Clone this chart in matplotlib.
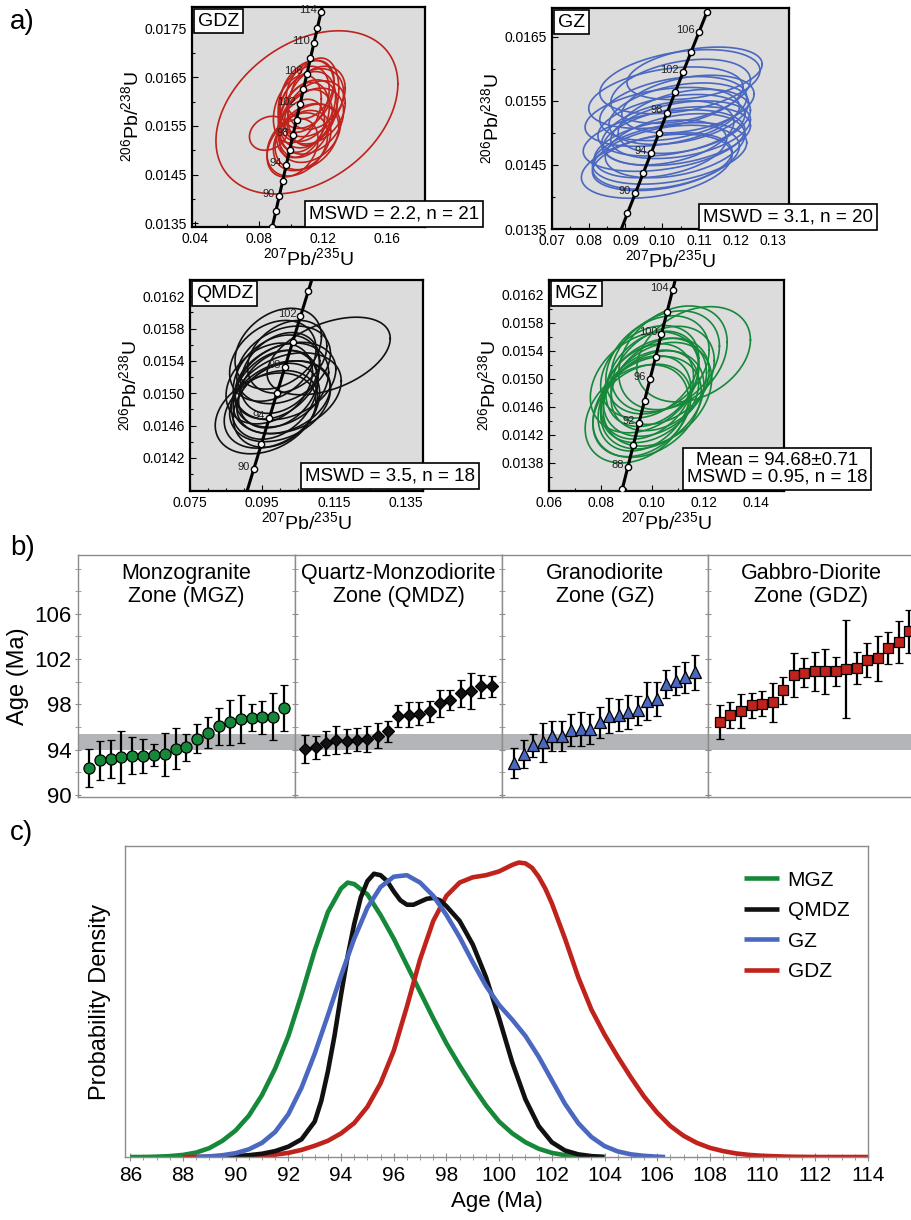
import numpy as np
import matplotlib
matplotlib.use("Agg")
import matplotlib.pyplot as plt
from matplotlib.ticker import MultipleLocator, FormatStrFormatter, FixedLocator

plt.rcParams['font.family'] = ['Liberation Sans', 'DejaVu Sans']
plt.rcParams['mathtext.fontset'] = 'custom'
plt.rcParams['mathtext.rm'] = 'Liberation Sans'
plt.rcParams['mathtext.it'] = 'Liberation Sans:italic'

# ---- colours per zone ----
C_MGZ = '#16883a'
C_QMDZ = '#111111'
C_GZ = '#4a68c0'
C_GDZ = '#c0221c'

# ---- a) concordia error ellipses: centre 207/235, centre 206/238, 2s x, 2s y, rho ----
GDZ_X = [0.086, 0.101, 0.104, 0.107, 0.110, 0.112, 0.106, 0.109, 0.113, 0.108, 0.111,
         0.115, 0.104, 0.110, 0.113, 0.108, 0.116, 0.110, 0.112, 0.114, 0.110]
GDZ_Y = [0.01535, 0.01505, 0.01512, 0.01520, 0.01528, 0.01535, 0.01545, 0.01555, 0.01560,
         0.01568, 0.01575, 0.01578, 0.01585, 0.01590, 0.01598, 0.01605, 0.01608, 0.01615,
         0.01625, 0.01600, 0.01578]
GDZ_SX = [0.012, 0.016, 0.019, 0.018, 0.020, 0.019, 0.015, 0.017, 0.020, 0.016, 0.018,
          0.019, 0.015, 0.018, 0.020, 0.016, 0.018, 0.017, 0.015, 0.016, 0.057]
GDZ_SY = [0.00035, 0.00060, 0.00065, 0.00062, 0.00068, 0.00060, 0.00060, 0.00070, 0.00068,
          0.00072, 0.00070, 0.00065, 0.00070, 0.00072, 0.00070, 0.00068, 0.00065, 0.00070,
          0.00060, 0.00090, 0.00168]
GDZ_RHO = [0.2] + [0.3] * 19 + [0.35]

GZ_X = [0.0985, 0.1000, 0.1010, 0.1020, 0.0995, 0.1035, 0.1005, 0.1040, 0.1015, 0.1050,
        0.1025, 0.1060, 0.1000, 0.1045, 0.1030, 0.1070, 0.1010, 0.1050, 0.1048, 0.1088]
GZ_Y = [0.01448, 0.01455, 0.01462, 0.01468, 0.01475, 0.01480, 0.01488, 0.01495, 0.01500,
        0.01505, 0.01512, 0.01518, 0.01525, 0.01530, 0.01538, 0.01545, 0.01555, 0.01565,
        0.01580, 0.01593]
GZ_SX = [0.0205, 0.019, 0.020, 0.021, 0.018, 0.019, 0.022, 0.020, 0.018, 0.019,
         0.020, 0.018, 0.021, 0.019, 0.020, 0.018, 0.021, 0.019, 0.0218, 0.0184]
GZ_SY = [0.00050, 0.00045, 0.00050, 0.00048, 0.00045, 0.00050, 0.00048, 0.00046, 0.00050,
         0.00045, 0.00048, 0.00050, 0.00046, 0.00048, 0.00050, 0.00045, 0.00048, 0.00050,
         0.00050, 0.00041]
GZ_RHO = [0.35] * 20

QMDZ_X = [0.0960, 0.0975, 0.0990, 0.1000, 0.1010, 0.0985, 0.1020, 0.0995, 0.1005,
          0.0970, 0.1015, 0.0990, 0.1000, 0.1010, 0.0980, 0.1020, 0.0995, 0.1135]
QMDZ_Y = [0.01475, 0.01480, 0.01485, 0.01490, 0.01495, 0.01498, 0.01500, 0.01505, 0.01510,
          0.01512, 0.01515, 0.01520, 0.01525, 0.01535, 0.01540, 0.01545, 0.01555, 0.01546]
QMDZ_SX = [0.014, 0.013, 0.012, 0.014, 0.013, 0.012, 0.015, 0.011, 0.013,
           0.012, 0.014, 0.012, 0.011, 0.013, 0.012, 0.011, 0.012, 0.0171]
QMDZ_SY = [0.00050, 0.00048, 0.00052, 0.00050, 0.00045, 0.00055, 0.00050, 0.00048, 0.00052,
           0.00050, 0.00048, 0.00052, 0.00050, 0.00048, 0.00050, 0.00045, 0.00050, 0.00048]
QMDZ_RHO = [0.3] * 17 + [0.45]

MGZ_X = [0.094, 0.096, 0.098, 0.097, 0.100, 0.099, 0.102, 0.098, 0.101,
         0.103, 0.097, 0.100, 0.104, 0.099, 0.102, 0.105, 0.108, 0.116]
MGZ_Y = [0.01450, 0.01455, 0.01460, 0.01465, 0.01470, 0.01475, 0.01478, 0.01482, 0.01488,
         0.01492, 0.01495, 0.01500, 0.01505, 0.01510, 0.01520, 0.01525, 0.01530, 0.01535]
MGZ_SX = [0.020, 0.019, 0.021, 0.018, 0.020, 0.019, 0.021, 0.018, 0.020,
          0.019, 0.021, 0.018, 0.020, 0.019, 0.020, 0.021, 0.021, 0.022]
MGZ_SY = [0.00070, 0.00066, 0.00072, 0.00068, 0.00070, 0.00066, 0.00074, 0.00068, 0.00070,
          0.00066, 0.00072, 0.00068, 0.00070, 0.00066, 0.00070, 0.00072, 0.00074, 0.00068]
MGZ_RHO = [0.3] * 18

# ---- b) weighted-mean ages (Ma) and 2s errors ----
MGZ_AGE = [92.36, 93.03, 93.18, 93.33, 93.45, 93.45, 93.50, 93.60, 94.07, 94.20,
           94.95, 95.50, 96.04, 96.40, 96.70, 96.80, 96.84, 96.90, 97.66]
MGZ_ERR = [1.70, 1.70, 1.70, 2.30, 1.65, 1.50, 1.00, 1.90, 1.80, 1.20,
           1.30, 1.35, 1.60, 2.00, 2.10, 1.20, 1.45, 2.10, 2.00]
QMDZ_AGE = [94.04, 94.20, 94.57, 94.86, 94.77, 94.86, 94.95, 95.20, 95.60, 96.98,
            97.07, 97.16, 97.37, 98.10, 98.40, 98.99, 99.20, 99.58, 99.58]
QMDZ_ERR = [1.25, 1.00, 1.05, 1.25, 1.05, 1.00, 1.15, 1.10, 0.90, 0.95,
            1.10, 1.00, 0.95, 1.20, 0.90, 1.20, 1.60, 1.00, 0.95]
GZ_AGE = [92.80, 93.60, 94.36, 94.63, 95.20, 95.20, 95.70, 95.80, 95.80, 96.40,
          97.00, 97.07, 97.30, 97.45, 98.30, 98.46, 99.80, 100.10, 100.37, 100.84]
GZ_ERR = [1.30, 1.25, 1.00, 1.70, 1.30, 1.35, 1.40, 1.50, 1.35, 1.40,
          1.55, 1.40, 1.50, 1.30, 1.65, 1.50, 1.25, 1.30, 1.40, 1.55]
GDZ_AGE = [96.40, 97.07, 97.42, 97.90, 98.04, 98.16, 99.22, 100.60, 100.80, 100.90,
           100.90, 100.90, 101.10, 101.20, 101.93, 102.08, 102.96, 103.50, 104.44]
GDZ_ERR = [1.50, 1.15, 1.50, 1.10, 1.10, 1.70, 1.20, 1.95, 1.30, 1.70,
           1.95, 1.30, 4.35, 1.40, 1.50, 2.00, 1.40, 1.85, 1.90]
MEAN_AGE, MEAN_ERR = 94.68, 0.71

# ---- c) relative probability density curves ----
MGZ_T = [86, 86.5, 87, 87.5, 88, 88.5, 89, 89.5, 90, 90.5, 91, 91.5, 92, 92.5, 93, 93.5,
         94, 94.25, 94.5, 95, 95.5, 96, 96.5, 97, 97.5, 98, 98.5, 99, 99.5, 100, 100.5,
         101, 101.5, 102, 102.5, 103, 103.5, 104]
MGZ_P = [0, 0, 0.001, 0.003, 0.007, 0.015, 0.03, 0.055, 0.09, 0.14, 0.21, 0.30, 0.41,
         0.55, 0.70, 0.83, 0.91, 0.93, 0.925, 0.89, 0.82, 0.74, 0.65, 0.56, 0.47, 0.385,
         0.31, 0.24, 0.175, 0.12, 0.08, 0.05, 0.028, 0.014, 0.006, 0.002, 0.001, 0]
QMDZ_T = [89, 89.5, 90, 90.5, 91, 91.5, 92, 92.5, 93, 93.25, 93.5, 93.75, 94, 94.25, 94.5,
          94.75, 95, 95.25, 95.5, 95.75, 96, 96.25, 96.5, 96.75, 97, 97.25, 97.5, 97.75,
          98, 98.5, 99, 99.5, 100, 100.5, 101, 101.5, 102, 102.5, 103, 103.5, 104]
QMDZ_P = [0, 0.001, 0.003, 0.006, 0.011, 0.02, 0.035, 0.06, 0.12, 0.19, 0.29, 0.41, 0.55,
          0.68, 0.79, 0.88, 0.935, 0.96, 0.955, 0.935, 0.90, 0.87, 0.855, 0.855, 0.865,
          0.875, 0.878, 0.87, 0.85, 0.80, 0.72, 0.61, 0.47, 0.32, 0.195, 0.105, 0.05,
          0.022, 0.009, 0.003, 0]
GZ_T = [88.5, 89, 89.5, 90, 90.5, 91, 91.5, 92, 92.5, 93, 93.5, 94, 94.5, 95, 95.5, 96,
        96.5, 97, 97.5, 98, 98.5, 99, 99.5, 100, 100.5, 101, 101.5, 102, 102.5, 103, 103.5,
        104, 104.5, 105, 105.5, 106, 106.3]
GZ_P = [0, 0.002, 0.006, 0.013, 0.026, 0.048, 0.085, 0.145, 0.235, 0.35, 0.48, 0.615,
        0.74, 0.845, 0.915, 0.95, 0.955, 0.93, 0.885, 0.82, 0.745, 0.66, 0.58, 0.515,
        0.465, 0.41, 0.34, 0.26, 0.18, 0.115, 0.068, 0.037, 0.019, 0.009, 0.004, 0.001, 0]
GDZ_T = [88, 89, 90, 91, 91.5, 92, 92.5, 93, 93.5, 94, 94.5, 95, 95.5, 96, 96.5, 97, 97.5,
         98, 98.5, 99, 99.5, 100, 100.5, 100.75, 101, 101.25, 101.5, 101.75, 102, 102.5,
         103, 103.5, 104, 104.5, 105, 105.5, 106, 106.5, 107, 107.5, 108, 108.5, 109,
         109.5, 110, 111, 112, 114]
GDZ_P = [0, 0.001, 0.002, 0.005, 0.008, 0.014, 0.024, 0.038, 0.055, 0.08, 0.115, 0.17,
         0.25, 0.36, 0.51, 0.67, 0.80, 0.885, 0.93, 0.948, 0.955, 0.968, 0.99, 0.998,
         0.995, 0.98, 0.95, 0.91, 0.86, 0.74, 0.61, 0.50, 0.415, 0.34, 0.27, 0.205, 0.15,
         0.105, 0.072, 0.048, 0.031, 0.02, 0.012, 0.007, 0.004, 0.001, 0, 0]

LAM238 = 1.55125e-4  # decay constants, 1/Ma
LAM235 = 9.8485e-4

W, H = 912, 1220
fig = plt.figure(figsize=(W / 100, H / 100), dpi=100)


def add_ax(l, t, r, b):
    # axes placed by pixel edges
    return fig.add_axes([l / W, 1 - b / H, (r - l) / W, (b - t) / H])


def concordia_xy(t):
    t = np.asarray(t, float)
    return np.expm1(LAM235 * t), np.expm1(LAM238 * t)


def ellipse_xy(cx, cy, sx, sy, rho, n=140):
    a = np.linspace(0, 2 * np.pi, n)
    return cx + sx * np.cos(a), cy + sy * (rho * np.cos(a) + np.sqrt(1 - rho ** 2) * np.sin(a))


def concordia_panel(ax, ell, color, tag, xlim, ylim, xt, yt, xminor, yminor, xfmt,
                    marks, labels):
    ax.set_facecolor('#dcdcdc')
    for cx, cy, sx, sy, r in zip(*ell):
        ex, ey = ellipse_xy(cx, cy, sx, sy, r)
        ax.plot(ex, ey, color=color, lw=1.2, zorder=2)
    ct = np.linspace(60, 130, 300)
    cx, cy = concordia_xy(ct)
    ax.plot(cx, cy, color='black', lw=2.2, zorder=3)
    mx, my = concordia_xy(marks)
    ax.plot(mx, my, 'o', ms=4.5, mfc='white', mec='black', mew=1.0, zorder=4)
    for t in labels:
        lx, ly = concordia_xy(t)
        ax.annotate(str(t), (lx, ly), xytext=(-3, 1.5), textcoords='offset points',
                    ha='right', va='center', fontsize=8, color='#222222', zorder=5)
    ax.set_xlim(*xlim)
    ax.set_ylim(*ylim)
    ax.xaxis.set_major_locator(FixedLocator(xt))
    ax.yaxis.set_major_locator(FixedLocator(yt))
    ax.xaxis.set_minor_locator(MultipleLocator(xminor))
    ax.yaxis.set_minor_locator(MultipleLocator(yminor))
    ax.xaxis.set_major_formatter(FormatStrFormatter(xfmt))
    ax.yaxis.set_major_formatter(FormatStrFormatter('%.4f'))
    ax.tick_params(which='both', direction='in', labelsize=10, width=0.8)
    ax.tick_params(which='major', length=4)
    ax.tick_params(which='minor', length=2.5)
    for s in ax.spines.values():
        s.set_linewidth(1.6)
    ax.set_xlabel(r'$^{207}$Pb/$^{235}$U', fontsize=14, labelpad=1)
    ax.set_ylabel(r'$^{206}$Pb/$^{238}$U', fontsize=14, labelpad=2)
    ax.text(0.025, 0.975, tag, transform=ax.transAxes, ha='left', va='top', fontsize=14,
            zorder=6, bbox=dict(boxstyle='square,pad=0.2', fc='white', ec='black', lw=1.2))


def stats_box(xc, yc, txt):
    fig.text(xc / W, 1 - yc / H, txt, ha='center', va='center', fontsize=13.5,
             linespacing=0.95, zorder=10,
             bbox=dict(boxstyle='square,pad=0.22', fc='white', ec='black', lw=1.2))


# ---------------- a) ----------------
ax = add_ax(192, 7, 425, 227)
concordia_panel(ax, (GDZ_X, GDZ_Y, GDZ_SX, GDZ_SY, GDZ_RHO), C_GDZ, 'GDZ',
                (0.038, 0.184), (0.01342, 0.01795), [0.04, 0.08, 0.12, 0.16],
                [0.0135, 0.0145, 0.0155, 0.0165, 0.0175], 0.02, 0.0005, '%.2f',
                list(range(86, 118, 2)), [90, 94, 98, 102, 106, 110, 114])
stats_box(394, 214, 'MSWD = 2.2, n = 21')

ax = add_ax(552, 8, 789, 229)
concordia_panel(ax, (GZ_X, GZ_Y, GZ_SX, GZ_SY, GZ_RHO), C_GZ, 'GZ',
                (0.07, 0.1345), (0.0135, 0.01695),
                [0.07, 0.08, 0.09, 0.10, 0.11, 0.12, 0.13],
                [0.0135, 0.0145, 0.0155, 0.0165], 0.005, 0.0005, '%.2f',
                list(range(84, 112, 2)), [90, 94, 98, 102, 106])
stats_box(788, 217, 'MSWD = 3.1, n = 20')

ax = add_ax(190, 280, 423, 491)
concordia_panel(ax, (QMDZ_X, QMDZ_Y, QMDZ_SX, QMDZ_SY, QMDZ_RHO), C_QMDZ, 'QMDZ',
                (0.075, 0.1397), (0.01379, 0.0164), [0.075, 0.095, 0.115, 0.135],
                [0.0142, 0.0146, 0.0150, 0.0154, 0.0158, 0.0162], 0.005, 0.0002, '%.3f',
                list(range(86, 110, 2)), [90, 94, 98, 102])
stats_box(390, 476, 'MSWD = 3.5, n = 18')

ax = add_ax(549, 280, 784, 491)
concordia_panel(ax, (MGZ_X, MGZ_Y, MGZ_SX, MGZ_SY, MGZ_RHO), C_MGZ, 'MGZ',
                (0.06, 0.151), (0.0134, 0.01641), [0.06, 0.08, 0.10, 0.12, 0.14],
                [0.0138, 0.0142, 0.0146, 0.0150, 0.0154, 0.0158, 0.0162], 0.01, 0.0002,
                '%.2f', list(range(84, 110, 2)), [88, 92, 96, 100, 104])
stats_box(777, 469, 'Mean = %.2f\u00b1%.2f\nMSWD = 0.95, n = 18' % (MEAN_AGE, MEAN_ERR))

# ---------------- b) ----------------
zones_b = [
    ('Monzogranite\nZone (MGZ)', MGZ_AGE, MGZ_ERR, 'o', C_MGZ, 8, (0, 20)),
    ('Quartz-Monzodiorite\nZone (QMDZ)', QMDZ_AGE, QMDZ_ERR, 'D', '#111111', 6.5, (0, 20)),
    ('Granodiorite\nZone (GZ)', GZ_AGE, GZ_ERR, '^', C_GZ, 8, (-0.26, 21.37)),
    ('Gabbro-Diorite\nZone (GDZ)', GDZ_AGE, GDZ_ERR, 's', C_GDZ, 7.5, (-0.14, 19.46)),
]
edges = [(78, 295), (295, 502), (502, 708), (708, 914)]
for i, ((title, age, err, mk, col, ms, xl), (l, r)) in enumerate(zip(zones_b, edges)):
    ax = add_ax(l, 555, r, 797)
    ax.axhspan(MEAN_AGE - MEAN_ERR, MEAN_AGE + MEAN_ERR, color='#b3b5b9', lw=0, zorder=0)
    xs = np.arange(1, len(age) + 1)
    ax.errorbar(xs, age, yerr=err, fmt=mk, ms=ms, mfc=col, mec='black', mew=0.9,
                ecolor='black', elinewidth=1.6, capsize=3, capthick=1.6, zorder=3)
    ax.set_xlim(*xl)
    ax.set_ylim(89.8, 111.2)
    ax.set_xticks([])
    ax.yaxis.set_major_locator(FixedLocator([90, 94, 98, 102, 106]))
    ax.yaxis.set_minor_locator(MultipleLocator(2))
    ax.tick_params(axis='y', which='both', direction='inout', color='#8c8c8c',
                   labelsize=16, length=5, pad=2)
    if i > 0:
        ax.tick_params(axis='y', labelleft=False)
    for s in ax.spines.values():
        s.set_color('#8c8c8c')
        s.set_linewidth(1.0)
    ax.text(0.5, 0.965, title, transform=ax.transAxes, ha='center', va='top',
            fontsize=15.5, linespacing=1.1)
    if i == 0:
        ax.set_ylabel('Age (Ma)', fontsize=17, labelpad=4)

# ---------------- c) ----------------
ax = add_ax(125, 846, 868, 1157)
curves = [('MGZ', MGZ_T, MGZ_P, C_MGZ), ('GDZ', GDZ_T, GDZ_P, C_GDZ),
          ('QMDZ', QMDZ_T, QMDZ_P, '#111111'), ('GZ', GZ_T, GZ_P, C_GZ)]
handles = {}
for name, t, p, col in curves:
    handles[name], = ax.plot(t, p, color=col, lw=3.3, solid_capstyle='butt',
                             solid_joinstyle='round', label=name)
ax.set_xlim(85.8, 114)
ax.set_ylim(0, 1.054)
ax.set_yticks([])
ax.xaxis.set_major_locator(MultipleLocator(2))
ax.xaxis.set_minor_locator(MultipleLocator(0.5))
ax.tick_params(axis='x', which='both', direction='inout', color='#8c8c8c', labelsize=15)
ax.tick_params(axis='x', which='major', length=6)
ax.tick_params(axis='x', which='minor', length=4)
for s in ax.spines.values():
    s.set_color('#8c8c8c')
    s.set_linewidth(1.0)
ax.set_xlabel('Age (Ma)', fontsize=16, labelpad=4)
ax.set_ylabel('Probability Density', fontsize=17, labelpad=10)
ax.legend([handles[k] for k in ('MGZ', 'QMDZ', 'GZ', 'GDZ')], ['MGZ', 'QMDZ', 'GZ', 'GDZ'],
          loc='upper right', bbox_to_anchor=(1.0, 0.981), frameon=False, fontsize=15,
          handlelength=1.7, handletextpad=0.4, labelspacing=0.55)

# panel letters
for letter, y in (('a)', 22), ('b)', 548), ('c)', 833)):
    fig.text(10 / W, 1 - y / H, letter, fontsize=20, va='center', ha='left')

fig.savefig('out.png', dpi=100)
